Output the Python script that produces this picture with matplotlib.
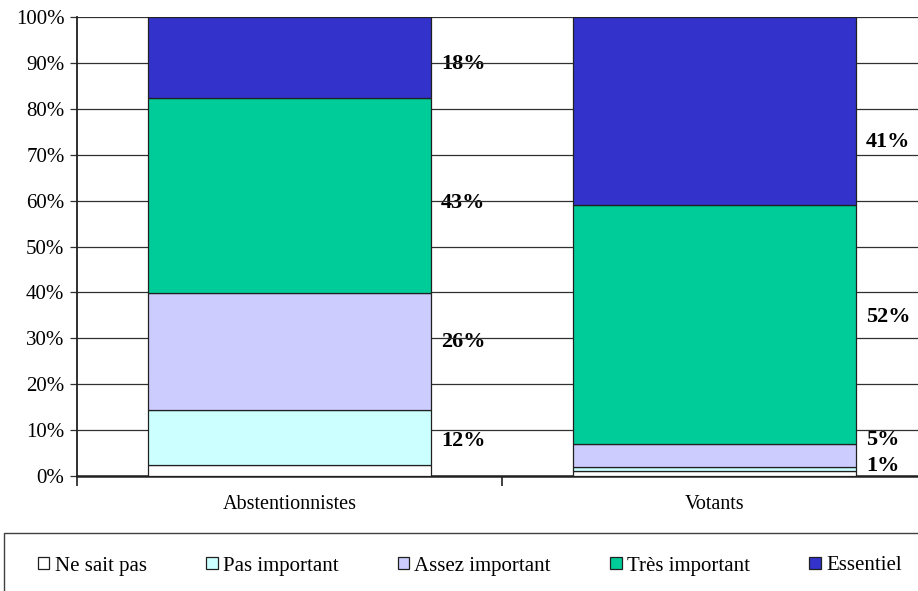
import numpy as np
import matplotlib
matplotlib.use("Agg")
import matplotlib.pyplot as plt
from matplotlib.patches import Rectangle
from matplotlib.ticker import FuncFormatter

plt.rcParams['font.family'] = ['Liberation Serif', 'DejaVu Serif']

groups = ['Abstentionnistes', 'Votants']
levels = ['Ne sait pas', 'Pas important', 'Assez important', 'Très important', 'Essentiel']
colors = ['#FFFFFF', '#CCFFFF', '#CCCCFF', '#00CC99', '#3333CC']

# raw answer shares (%), stacked to 100%
abst = [2.5, 12, 26, 43, 18]
vot = [1, 1, 5, 52, 41]
shown = [[False, True, True, True, True],
         [False, True, True, True, True]]
# small vertical nudges of the value labels (in % units)
nudge = [[0, -0.7, 2.2, -1.5, -1.3],
         [0, 0.7, 3.3, 1.7, -6.7]]

data = np.array([abst, vot], dtype=float)
pct = data / data.sum(axis=1, keepdims=True) * 100

fig = plt.figure(figsize=(9.18, 5.91), dpi=100)
ax = fig.add_axes([77/918, 1 - 476/591, 850/918, 459/591])
ax.set_axisbelow(True)

x = np.arange(len(groups))
w = 0.666
bottom = np.zeros(len(groups))
for j in range(len(levels)):
    ax.bar(x, pct[:, j], w, bottom=bottom, color=colors[j], edgecolor='#202020',
           linewidth=0.9, label=levels[j], zorder=3)
    for i in range(len(groups)):
        if shown[i][j]:
            ymid = bottom[i] + pct[i, j] / 2 + nudge[i][j]
            ax.text(x[i] + w / 2 + 0.024, ymid, f"{data[i, j]:.0f}%", ha='left', va='center',
                    fontsize=16, fontweight='bold', zorder=0.3)
    bottom += pct[:, j]

ax.set_ylim(0, 100)
ax.set_xlim(-0.5, 1.5)
ax.set_yticks(np.arange(0, 101, 10))
ax.yaxis.set_major_formatter(FuncFormatter(lambda v, p: f"{v:.0f}%"))
ax.yaxis.grid(True, color='#303030', linewidth=0.9)
ax.set_xticks(x)
ax.set_xticklabels(groups, fontsize=14.5)
ax.set_xticks([-0.5, 0.5, 1.5], minor=True)
ax.tick_params(axis='x', which='major', length=0, pad=14)
ax.tick_params(axis='x', which='minor', length=7, width=1.2, color='#202020')
ax.tick_params(axis='y', length=5, width=0.9, color='#303030', labelsize=15, pad=4)
for s in ['top', 'right']:
    ax.spines[s].set_visible(False)
ax.spines['left'].set_linewidth(1.3)
ax.spines['bottom'].set_linewidth(1.8)
ax.spines['left'].set_color('#202020')
ax.spines['bottom'].set_color('#202020')

# legend box along the bottom
fig.patches.append(Rectangle((4/918, -0.1), 1.0, (591 - 533)/591 + 0.1,
                             transform=fig.transFigure, fill=False,
                             edgecolor='#404040', linewidth=1.0))
fig.legend(*ax.get_legend_handles_labels(), loc='center left',
           bbox_to_anchor=(38/918, 1 - 566/591), ncol=5, frameon=False,
           fontsize=15, handlelength=0.55, handleheight=0.55, handletextpad=0.25,
           columnspacing=2.85, borderpad=0, borderaxespad=0)

fig.savefig('out.png', dpi=100)
